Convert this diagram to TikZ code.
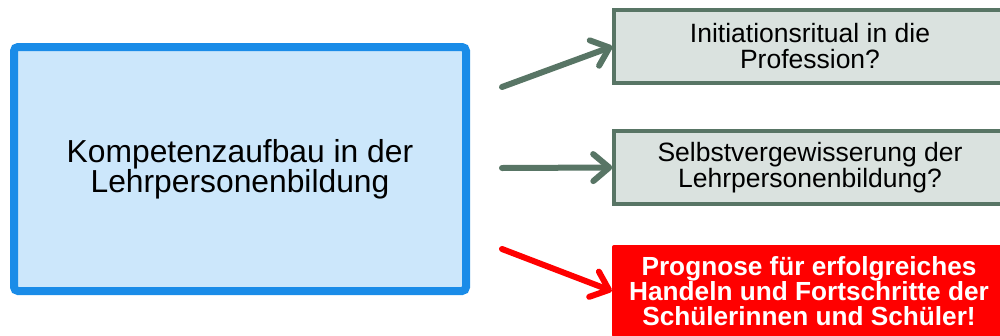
\documentclass[tikz,border=0pt]{standalone}
\usepackage{fontspec}
\setmainfont{Liberation Sans}
\usetikzlibrary{arrows.meta}

\definecolor{kompblue}{HTML}{1A8CE8}
\definecolor{kompfill}{HTML}{CCE7FB}
\definecolor{slategreen}{HTML}{587565}
\definecolor{slatefill}{HTML}{DAE2DF}
\definecolor{alarmred}{HTML}{FF0000}

\begin{document}
\begin{tikzpicture}[x=1pt,y=-1pt,
    question/.style={draw=slategreen, fill=slatefill, line width=3.5pt,
        minimum width=392pt, minimum height=73pt, align=center,
        font=\fontsize{26.5}{26}\selectfont},
    pointer/.style={line width=6pt, line cap=round,
        -{Straight Barb[length=16pt,width=27pt,round]}}]
    \useasboundingbox (0,0) rectangle (1000,335);
    \clip (0,0) rectangle (1000,335);

    % left box
    \node[draw=kompblue, fill=kompfill, line width=8pt, rounded corners=4pt,
        minimum width=452pt, minimum height=244pt, align=center,
        font=\fontsize{31.8}{30}\selectfont] (komp) at (240,169)
        {Kompetenzaufbau in der\\Lehrpersonenbildung};

    % right boxes
    \node[question] (initiation) at (810,46.5) {Initiationsritual in die\\Profession?};
    \node[question] (selbst) at (810,167.5) {Selbstvergewisserung der\\Lehrpersonenbildung?};
    \node[fill=alarmred, text=white, rounded corners=2pt, minimum width=394pt,
        minimum height=92pt, align=center,
        font=\fontsize{26.2}{25}\bfseries] (prognose) at (809,291)
        {Prognose für erfolgreiches\\Handeln und Fortschritte der\\Schülerinnen und Schüler!};

    % arrow starts
    \coordinate (S1) at (502,87);
    \coordinate (S2) at (502,168);
    \coordinate (S3) at (502,249);

    \draw[pointer, slategreen] (S1) -- (initiation.west);
    \draw[pointer, slategreen] (S2) -- (selbst.west);
    \draw[pointer, alarmred] (S3) -- (prognose.west);

\end{tikzpicture}
\end{document}
